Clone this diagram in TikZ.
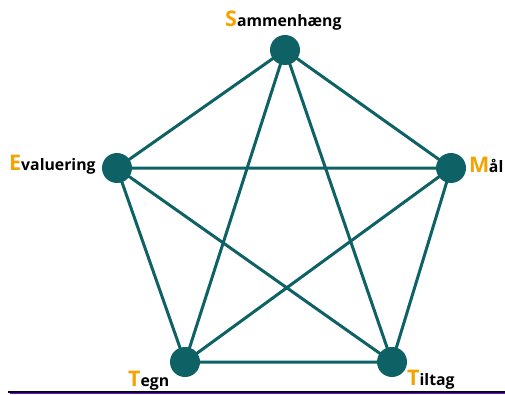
\documentclass[tikz,border=0pt]{standalone}
\usepackage{fontspec}
\setmainfont{Open Sans}
\definecolor{teal1}{HTML}{0E6266}
\definecolor{gold1}{HTML}{F4A300}
\definecolor{purp}{HTML}{8000FF}
\newcommand{\ini}[1]{{\fontsize{21.5}{22}\selectfont\color{gold1}#1}}
\begin{document}
\begin{tikzpicture}[x=1pt,y=1pt,
  vtx/.style={circle,fill=teal1,minimum size=30pt,inner sep=0pt},
  edge/.style={teal1,line width=3pt},
  lab/.style={anchor=base west,inner sep=0pt,font=\bfseries\fontsize{15.8}{16}\selectfont}]
\useasboundingbox (0,0) rectangle (505,394);
\coordinate (S) at (285,344);
\coordinate (E) at (117,226);
\coordinate (M) at (451,226);
\coordinate (T) at (185,32);
\coordinate (Ti) at (392,32);
\draw[edge] (S)--(E) (S)--(M) (S)--(T) (S)--(Ti) (E)--(M) (E)--(T) (E)--(Ti) (M)--(T) (M)--(Ti) (T)--(Ti);
\node[vtx] (nS) at (S) {};
\node[vtx] (nE) at (E) {};
\node[vtx] (nM) at (M) {};
\node[vtx] (nT) at (T) {};
\node[vtx] (nTi) at (Ti) {};
\node[lab] (lS) at (225,367) {\ini{S}ammenhæng};
\node[lab] (lE) at (9,223) {\ini{E}valuering};
\node[lab] (lM) at (469,222) {\ini{M}\kern-0.5pt ål};
\node[lab] (lT) at (128,8) {\ini{T}egn};
\node[lab] (lTi) at (407,9) {\ini{T}iltag};
\draw[purp,line width=1pt] (10,1) -- (505,1);
\draw[black,line width=2pt] (8,2.5) -- (505,2.5);
\end{tikzpicture}
\end{document}
